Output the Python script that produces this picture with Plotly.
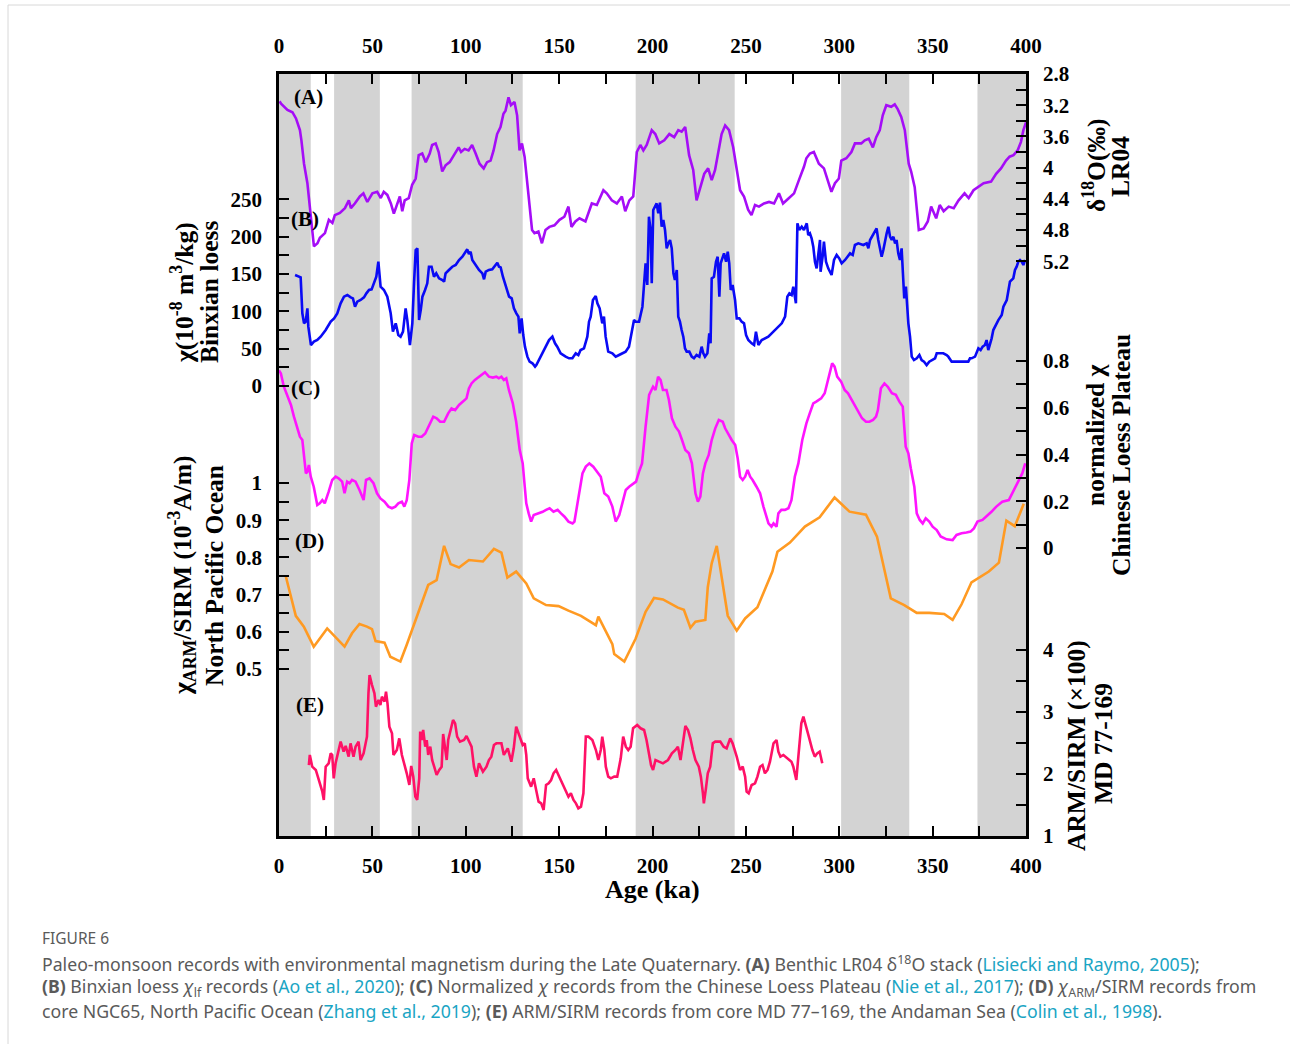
import plotly.graph_objects as go

# ---------------- data (age in ka, values in axis units) ----------------
A_pts = [(0.3,3.15),(1.1,3.18),(4.5,3.26),(7.2,3.29),(9.1,3.37),(11.2,3.52),(12.0,3.65),(13.4,3.95),(15.2,4.20),(16.6,4.54),(17.9,4.80),(18.7,5.01),(20.6,4.97),(21.9,4.90),(24.6,4.84),(26.7,4.67),(28.6,4.71),(29.9,4.61),(32.6,4.58),(35.3,4.52),(37.4,4.42),(38.5,4.52),(40.6,4.46),(43.3,4.37),(45.2,4.33),(47.3,4.44),(50.0,4.33),(52.6,4.31),(54.5,4.39),(56.1,4.31),(58.0,4.35),(59.9,4.46),(61.5,4.59),(63.3,4.48),(64.7,4.37),(66.0,4.56),(67.3,4.42),(69.5,4.39),(71.3,4.22),(73.2,4.14),(74.8,3.84),(76.7,3.82),(78.6,3.93),(80.7,3.82),(82.0,3.71),(83.9,3.69),(85.5,3.80),(87.4,4.05),(89.2,3.97),(91.4,3.93),(93.5,3.84),(96.2,3.74),(97.5,3.80),(99.4,3.76),(101.5,3.78),(103.4,3.71),(105.3,3.82),(107.4,3.95),(109.6,4.01),(111.4,3.93),(113.3,3.91),(114.9,3.78),(116.8,3.57),(118.6,3.48),(120.2,3.31),(121.3,3.27),(122.9,3.10),(124.2,3.20),(126.1,3.16),(127.5,3.33),(128.8,3.78),(130.1,3.69),(131.5,3.86),(133.6,4.33),(135.5,4.80),(136.8,4.84),(138.9,4.82),(140.8,4.97),(142.7,4.80),(144.8,4.76),(147.5,4.74),(150.2,4.67),(152.8,4.63),(155.0,4.50),(156.6,4.76),(158.7,4.69),(160.9,4.65),(164.1,4.69),(167.5,4.46),(170.2,4.48),(173.7,4.29),(175.5,4.33),(178.2,4.42),(180.9,4.46),(183.6,4.37),(185.4,4.56),(187.6,4.42),(189.7,4.37),(191.6,3.80),(193.5,3.71),(195.1,3.78),(196.9,3.71),(199.6,3.52),(201.5,3.57),(203.6,3.69),(206.3,3.65),(209.0,3.57),(211.6,3.61),(213.8,3.52),(215.6,3.54),(217.5,3.48),(219.6,3.84),(221.8,4.03),(223.6,4.42),(225.5,4.25),(227.7,4.08),(229.8,4.01),(231.7,4.16),(233.5,4.03),(235.7,3.74),(237.0,3.57),(238.9,3.46),(241.0,3.52),(243.2,3.74),(245.0,3.99),(246.9,4.29),(249.0,4.37),(251.2,4.54),(253.0,4.61),(254.9,4.48),(257.0,4.50),(259.7,4.46),(262.4,4.44),(265.1,4.46),(267.7,4.33),(269.9,4.46),(273.1,4.39),(275.8,4.33),(278.4,4.16),(281.1,3.99),(282.4,3.88),(284.3,3.82),(286.4,3.80),(289.1,3.95),(291.8,4.01),(293.9,4.16),(295.8,4.31),(297.7,4.20),(299.8,4.14),(301.1,3.91),(303.8,3.88),(306.5,3.80),(308.4,3.69),(311.8,3.69),(313.7,3.65),(315.8,3.63),(318.0,3.74),(319.8,3.61),(321.7,3.52),(323.3,3.33),(325.2,3.20),(327.8,3.22),(329.7,3.19),(331.3,3.25),(333.2,3.35),(335.1,3.52),(337.2,3.95),(338.5,4.05),(340.4,4.25),(342.6,4.80),(345.2,4.78),(347.4,4.69),(349.2,4.50),(351.9,4.65),(353.8,4.48),(355.9,4.56),(358.6,4.50),(361.3,4.52),(363.9,4.42),(367.1,4.33),(369.3,4.39),(371.9,4.29),(374.6,4.25),(377.3,4.20),(381.3,4.18),(384.0,4.08),(386.6,4.01),(389.3,3.91),(391.2,3.86),(393.3,3.84),(395.5,3.78),(397.3,3.67),(398.6,3.52),(400.0,3.42)]

B_pts = [(8.6,148.8),(11.6,145.6),(12.5,97.4),(13.4,84.0),(14.3,86.2),(15.2,104.1),(15.7,79.5),(16.4,66.1),(17.1,54.9),(18.7,59.4),(20.5,61.6),(22.3,66.1),(25.0,75.0),(27.7,86.2),(29.5,90.7),(31.2,97.4),(33.0,110.8),(34.8,119.7),(36.6,122.0),(38.4,118.8),(39.6,117.5),(40.7,106.3),(41.9,113.0),(43.7,115.3),(45.5,118.8),(46.8,124.2),(48.2,128.7),(49.6,129.5),(50.9,137.6),(52.1,146.5),(53.2,166.6),(54.4,133.1),(56.2,128.7),(58.0,119.7),(59.8,97.4),(61.0,72.8),(62.5,84.0),(63.9,68.3),(65.1,66.1),(66.4,72.8),(67.8,104.1),(68.7,88.4),(70.1,54.9),(71.4,84.0),(72.3,137.6),(73.2,182.3),(74.1,184.5),(75.0,88.4),(75.9,101.9),(76.8,119.7),(78.2,128.7),(79.4,137.6),(80.3,159.9),(81.7,159.9),(83.0,146.5),(84.2,151.0),(85.7,144.3),(87.5,142.1),(88.4,139.8),(89.2,151.0),(91.0,155.5),(92.8,159.9),(94.6,162.2),(96.4,168.9),(98.2,173.3),(99.6,177.8),(100.8,183.2),(101.7,176.9),(102.6,180.0),(103.5,168.9),(105.3,162.2),(107.1,155.5),(108.9,151.0),(109.8,143.0),(110.7,153.2),(112.4,155.5),(114.2,156.4),(116.0,162.2),(116.9,165.3),(117.8,159.9),(118.7,159.0),(119.9,146.5),(121.4,133.1),(123.2,119.7),(124.6,117.5),(125.8,104.1),(127.1,97.4),(128.2,92.9),(128.9,70.6),(129.9,90.7),(130.8,68.3),(131.7,52.7),(133.0,39.3),(134.2,32.6),(135.7,30.4),(137.1,25.9),(137.8,28.1),(139.2,34.8),(141.0,43.8),(142.8,52.7),(144.6,61.6),(146.4,66.1),(147.8,57.2),(149.0,52.7),(150.8,43.8),(153.5,39.3),(155.3,37.1),(157.1,37.1),(158.9,43.8),(160.3,41.5),(161.5,48.2),(163.3,50.5),(165.1,66.1),(166.0,86.2),(166.9,92.9),(168.1,115.3),(169.6,120.6),(170.5,110.8),(171.7,104.1),(173.1,84.0),(174.0,92.9),(174.9,66.1),(176.3,46.0),(178.5,43.8),(180.3,39.3),(182.1,41.5),(183.8,43.8),(185.6,46.0),(187.4,52.7),(189.2,79.5),(190.1,88.4),(191.0,86.2),(192.8,86.2),(194.6,106.3),(195.4,130.9),(196.3,164.4),(197.2,135.4),(198.1,226.9),(199.0,209.1),(199.6,137.6),(200.4,235.9),(201.3,240.4),(202.2,244.8),(203.1,231.4),(204.0,245.7),(204.9,213.5),(205.8,222.5),(206.7,209.1),(207.6,184.5),(208.5,191.2),(209.4,195.7),(210.3,184.5),(211.2,151.0),(212.0,142.1),(213.0,155.5),(213.8,92.9),(214.7,86.2),(215.6,75.0),(216.5,66.1),(217.4,50.5),(218.3,46.0),(219.7,46.0),(221.0,39.3),(222.2,37.1),(223.6,41.5),(225.1,39.3),(226.3,52.7),(227.2,43.8),(228.1,39.3),(229.4,43.8),(230.4,70.6),(231.1,57.2),(231.7,144.3),(232.9,146.5),(234.0,166.6),(234.9,173.3),(235.8,119.7),(236.5,164.4),(237.6,173.3),(238.3,177.8),(239.4,166.6),(240.3,180.0),(241.1,164.4),(241.9,128.7),(242.9,135.4),(244.2,115.3),(245.1,90.7),(246.5,90.7),(247.7,86.2),(249.0,84.0),(250.1,68.3),(251.3,61.6),(253.1,57.2),(254.4,54.9),(255.4,72.8),(256.7,54.9),(258.5,61.6),(260.2,63.9),(262.0,66.1),(263.8,70.6),(265.6,75.0),(267.4,79.5),(269.2,84.0),(271.0,92.9),(272.2,119.7),(273.3,124.2),(274.5,122.0),(275.4,133.1),(276.8,110.8),(277.6,218.0),(278.6,209.1),(279.9,213.5),(281.1,209.1),(282.6,218.0),(283.4,202.4),(284.3,204.6),(285.2,197.9),(286.1,186.7),(287.0,166.6),(287.9,157.7),(288.8,180.0),(289.7,195.7),(290.0,153.2),(291.1,173.3),(291.8,193.5),(292.9,166.6),(294.1,157.7),(295.9,148.8),(297.2,168.9),(298.6,175.6),(300.0,171.1),(301.3,164.4),(303.1,168.9),(304.3,173.3),(305.8,177.8),(307.2,175.6),(308.4,189.0),(310.2,191.2),(312.9,189.0),(314.7,191.2),(315.6,184.5),(316.5,195.7),(317.9,202.4),(319.1,206.9),(320.0,211.3),(320.9,195.7),(321.8,182.3),(322.7,173.3),(323.6,182.3),(324.5,195.7),(325.4,204.6),(326.3,213.5),(327.2,200.1),(328.1,195.7),(329.0,200.1),(329.9,191.2),(330.7,195.7),(331.6,177.8),(332.5,168.9),(333.4,184.5),(334.3,142.1),(334.8,117.5),(335.7,133.1),(337.0,84.0),(337.9,66.1),(338.8,39.3),(340.0,34.8),(341.5,37.1),(342.9,41.5),(344.1,34.8),(345.4,32.6),(346.8,28.1),(348.2,32.6),(349.5,34.8),(351.3,37.1),(352.2,43.8),(354.0,43.8),(355.7,43.8),(357.5,41.5),(358.4,39.3),(360.2,32.6),(362.0,32.6),(364.7,32.6),(367.3,32.6),(369.1,32.6),(370.0,37.1),(370.9,37.1),(372.7,39.3),(373.6,46.0),(374.5,50.5),(375.7,48.2),(376.8,52.7),(378.0,54.9),(378.9,61.6),(379.8,48.2),(380.7,54.9),(381.6,63.9),(382.5,75.0),(383.4,79.5),(384.3,84.0),(385.2,88.4),(387.0,95.2),(387.9,106.3),(389.7,115.3),(390.5,128.7),(391.4,139.8),(393.2,144.3),(394.1,155.5),(395.0,160.0),(395.9,166.6),(396.8,168.9),(397.7,166.6),(398.6,162.2),(399.5,168.9)]

C_pts = [(0.0,0.76),(1.0,0.747),(2.6,0.690),(4.5,0.647),(6.4,0.612),(8.0,0.562),(9.8,0.519),(11.2,0.476),(12.5,0.462),(13.3,0.391),(14.4,0.319),(15.2,0.327),(16.0,0.355),(17.0,0.305),(18.6,0.262),(20.5,0.184),(21.8,0.191),(23.2,0.205),(24.5,0.191),(26.6,0.241),(28.5,0.291),(30.3,0.305),(31.9,0.298),(33.8,0.284),(35.1,0.234),(36.5,0.284),(37.8,0.277),(39.1,0.291),(41.0,0.284),(43.1,0.248),(45.3,0.205),(46.6,0.291),(48.5,0.298),(50.6,0.277),(52.5,0.234),(54.3,0.212),(56.5,0.198),(58.6,0.177),(60.5,0.170),(62.3,0.177),(63.9,0.191),(65.8,0.198),(67.1,0.177),(68.4,0.205),(69.8,0.291),(71.1,0.448),(72.4,0.483),(74.6,0.476),(76.4,0.476),(78.3,0.490),(80.4,0.526),(82.6,0.562),(84.4,0.555),(86.3,0.540),(88.4,0.540),(90.6,0.576),(92.4,0.597),(94.3,0.590),(96.4,0.612),(98.5,0.626),(100.4,0.640),(101.7,0.683),(103.1,0.704),(104.9,0.719),(107.1,0.733),(109.2,0.747),(110.3,0.752),(112.4,0.733),(114.5,0.729),(116.4,0.733),(117.7,0.726),(119.1,0.733),(120.4,0.719),(121.7,0.726),(123.1,0.676),(125.2,0.619),(127.0,0.540),(128.9,0.419),(130.5,0.362),(131.6,0.262),(132.4,0.191),(133.7,0.148),(135.0,0.113),(136.4,0.141),(139.0,0.148),(141.2,0.155),(143.0,0.163),(144.9,0.170),(147.0,0.155),(149.2,0.163),(151.0,0.148),(152.9,0.134),(155.0,0.113),(157.2,0.105),(158.2,0.113),(160.3,0.220),(162.5,0.319),(164.3,0.348),(166.2,0.362),(168.3,0.348),(170.5,0.327),(172.3,0.305),(174.2,0.234),(176.3,0.220),(178.5,0.177),(180.3,0.113),(182.2,0.141),(183.8,0.191),(185.7,0.248),(187.5,0.262),(189.7,0.277),(191.2,0.284),(192.8,0.327),(194.4,0.362),(196.3,0.519),(198.2,0.655),(200.3,0.690),(201.6,0.676),(203.0,0.733),(204.3,0.719),(205.6,0.676),(207.5,0.676),(208.8,0.633),(210.4,0.555),(212.3,0.519),(214.2,0.498),(215.8,0.462),(217.6,0.419),(219.5,0.405),(221.1,0.362),(223.0,0.234),(224.3,0.198),(225.6,0.220),(227.0,0.319),(228.3,0.362),(230.1,0.398),(231.7,0.462),(233.6,0.512),(235.5,0.548),(237.6,0.540),(238.9,0.512),(240.3,0.490),(242.4,0.462),(244.3,0.441),(245.6,0.384),(246.9,0.305),(248.3,0.291),(249.6,0.305),(250.9,0.334),(252.3,0.305),(253.6,0.291),(255.7,0.262),(257.6,0.234),(259.4,0.177),(261.0,0.134),(262.1,0.105),(263.7,0.091),(264.8,0.105),(266.4,0.091),(267.4,0.148),(269.0,0.163),(270.9,0.163),(272.8,0.170),(274.4,0.205),(276.2,0.305),(278.1,0.362),(280.2,0.462),(282.4,0.533),(284.2,0.576),(286.1,0.619),(287.7,0.626),(290.3,0.640),(292.2,0.662),(293.5,0.704),(294.9,0.761),(296.2,0.790),(297.5,0.776),(298.9,0.733),(301.0,0.712),(302.9,0.676),(304.7,0.662),(306.3,0.640),(308.2,0.612),(310.1,0.583),(312.2,0.555),(314.3,0.540),(316.2,0.540),(318.1,0.548),(319.7,0.562),(320.7,0.590),(322.3,0.683),(324.2,0.704),(326.0,0.690),(328.2,0.662),(330.3,0.655),(332.2,0.626),(334.0,0.605),(335.6,0.433),(337.0,0.405),(338.3,0.341),(340.2,0.262),(341.5,0.148),(343.1,0.120),(344.7,0.105),(346.3,0.127),(348.2,0.113),(350.0,0.091),(352.2,0.077),(354.3,0.049),(357.5,0.037),(360.7,0.034),(362.8,0.056),(365.5,0.063),(368.1,0.066),(370.3,0.070),(372.1,0.084),(374.0,0.113),(376.7,0.120),(378.8,0.134),(381.5,0.155),(384.1,0.177),(387.3,0.198),(390.8,0.205),(393.4,0.248),(396.1,0.291),(398.0,0.319),(399.6,0.362)]

D_pts = [(3.7,0.748),(5.8,0.703),(9.0,0.643),(13.3,0.614),(18.6,0.560),(25.8,0.609),(35.1,0.560),(39.1,0.596),(43.1,0.621),(47.1,0.614),(49.8,0.607),(51.7,0.575),(56.5,0.571),(59.6,0.533),(65.0,0.520),(68.4,0.565),(72.4,0.623),(76.4,0.681),(79.9,0.726),(84.4,0.739),(88.4,0.831),(91.9,0.782),(96.4,0.773),(101.7,0.793),(109.2,0.789),(115.1,0.823),(119.1,0.813),(122.3,0.746),(127.0,0.762),(132.4,0.730),(136.4,0.690),(143.0,0.672),(149.7,0.669),(155.0,0.657),(161.7,0.643),(169.7,0.618),(171.0,0.641),(178.5,0.567),(179.5,0.540),(184.9,0.520),(191.0,0.582),(196.3,0.654),(200.8,0.691),(205.6,0.687),(213.6,0.665),(216.8,0.659),(220.3,0.611),(223.0,0.627),(228.3,0.632),(229.6,0.720),(231.7,0.784),(234.4,0.831),(237.1,0.748),(240.3,0.643),(245.1,0.603),(249.6,0.636),(256.2,0.666),(261.6,0.730),(264.2,0.762),(266.9,0.815),(273.6,0.840),(281.6,0.883),(289.5,0.908),(297.5,0.961),(305.5,0.923),(314.3,0.915),(320.2,0.856),(327.6,0.690),(334.8,0.672),(341.5,0.651),(348.2,0.651),(356.2,0.648),(360.7,0.632),(365.5,0.674),(370.8,0.733),(380.1,0.762),(385.5,0.786),(389.5,0.899),(394.0,0.884),(398.8,0.944)]

E_pts = [(16.0,2.145),(16.5,2.307),(17.8,2.118),(19.7,2.065),(20.8,1.957),(21.8,1.850),(23.2,1.715),(24.0,1.581),(25.0,2.118),(26.6,2.172),(27.7,2.333),(28.5,2.307),(29.3,1.930),(30.3,2.172),(31.9,2.360),(33.0,2.522),(34.6,2.360),(35.7,2.452),(37.3,2.280),(38.3,2.495),(39.9,2.280),(41.0,2.441),(42.6,2.522),(43.7,2.226),(45.3,2.333),(47.1,2.602),(47.9,3.301),(48.5,3.597),(49.8,3.435),(51.1,3.301),(51.9,3.086),(53.3,3.193),(54.3,3.113),(55.1,3.247),(56.5,3.167),(57.3,3.328),(58.1,3.140),(59.1,2.764),(60.5,2.656),(61.3,2.307),(63.1,2.387),(64.4,2.575),(65.8,2.307),(67.1,2.172),(68.4,2.011),(69.8,1.823),(70.8,2.129),(71.9,1.957),(73.0,1.634),(74.0,1.581),(75.1,1.930),(75.6,2.683),(76.4,2.548),(77.2,2.710),(78.3,2.441),(79.1,2.548),(79.9,2.307),(81.0,2.441),(82.0,2.226),(83.1,2.118),(84.4,1.984),(85.8,2.065),(87.1,2.118),(87.9,2.645),(89.0,2.441),(89.8,2.226),(90.6,2.548),(91.9,2.710),(93.2,2.871),(94.3,2.817),(95.4,2.602),(96.9,2.522),(99.1,2.548),(100.4,2.613),(101.7,2.522),(103.1,2.441),(104.4,2.118),(105.7,1.957),(107.1,2.172),(109.2,2.038),(111.1,2.118),(112.4,2.226),(113.7,2.280),(115.1,2.468),(116.4,2.495),(119.1,2.495),(120.4,2.307),(122.5,2.414),(124.4,2.199),(125.7,2.414),(127.0,2.764),(128.9,2.602),(130.5,2.468),(131.6,2.495),(132.4,2.307),(133.2,1.930),(135.0,1.796),(136.4,1.930),(137.7,1.742),(139.0,1.554),(140.4,1.527),(141.7,1.420),(143.0,1.823),(144.4,1.850),(145.7,1.903),(147.0,2.011),(148.4,2.065),(149.7,1.984),(151.0,1.903),(152.4,1.796),(153.7,1.715),(155.0,1.634),(156.3,1.688),(157.7,1.581),(159.0,1.527),(160.3,1.446),(161.7,1.473),(163.0,1.688),(164.3,2.602),(165.7,2.602),(167.8,2.548),(169.7,2.387),(171.0,2.226),(172.3,2.387),(173.1,2.602),(174.2,2.387),(175.0,2.118),(176.3,1.957),(177.7,1.930),(179.5,1.957),(181.1,1.957),(183.0,2.253),(184.3,2.602),(185.7,2.441),(187.0,2.387),(188.3,2.441),(189.6,2.737),(191.8,2.790),(193.6,2.737),(195.5,2.710),(196.8,2.548),(198.2,2.333),(199.2,2.145),(200.3,2.065),(201.6,2.226),(203.5,2.199),(205.6,2.172),(208.3,2.226),(210.4,2.333),(212.3,2.387),(213.6,2.441),(215.0,2.226),(216.3,2.495),(217.6,2.774),(219.0,2.710),(220.3,2.575),(221.6,2.387),(223.0,2.226),(224.8,2.118),(225.9,1.957),(227.0,1.688),(227.5,1.527),(228.5,1.742),(229.6,2.011),(230.9,2.118),(232.3,2.495),(233.6,2.522),(236.3,2.522),(238.1,2.441),(239.7,2.414),(241.6,2.575),(242.9,2.495),(245.1,2.280),(246.9,2.065),(248.3,2.118),(249.6,1.957),(250.4,1.715),(251.5,1.688),(253.1,1.823),(254.9,1.850),(256.2,1.957),(257.6,2.118),(258.9,2.145),(260.2,2.011),(261.6,2.065),(262.9,2.199),(264.8,2.495),(266.4,2.548),(267.4,2.360),(268.5,2.280),(270.1,2.307),(272.2,2.253),(274.4,2.199),(275.4,2.118),(277.0,1.903),(278.1,2.280),(279.7,2.817),(280.8,2.925),(282.4,2.764),(283.7,2.602),(285.6,2.387),(286.9,2.280),(288.2,2.333),(289.5,2.360),(290.9,2.172)]

# glacial/interglacial shading intervals (ka)
shade_bands = [(0, 17), (29.5, 54), (71, 130.5), (191, 244), (301, 337.5), (374, 400)]

# tick values / labels (major = labelled, minor = unlabelled)
age_major = [0, 50, 100, 150, 200, 250, 300, 350, 400]
age_minor = [25, 75, 125, 175, 225, 275, 325, 375]
B_major = [0, 50, 100, 150, 200, 250]
B_minor = [25, 75, 125, 175, 225]
D_major = [0.5, 0.6, 0.7, 0.8, 0.9, 1.0]
D_labels = ["0.5", "0.6", "0.7", "0.8", "0.9", "1"]
D_minor = [0.55, 0.65, 0.75, 0.85, 0.95]
A_major = [2.8, 3.2, 3.6, 4.0, 4.4, 4.8, 5.2]
A_labels = ["2.8", "3.2", "3.6", "4", "4.4", "4.8", "5.2"]
A_minor = [3.0, 3.4, 3.8, 4.2, 4.6, 5.0]
C_major = [0, 0.2, 0.4, 0.6, 0.8]
C_labels = ["0", "0.2", "0.4", "0.6", "0.8"]
C_minor = [0.1, 0.3, 0.5, 0.7]
E_major = [1, 2, 3, 4]
E_labels = ["1", "2", "3", "4"]
E_minor = [1.5, 2.5, 3.5]

# ---------------- figure ----------------
W, H = 1290, 1044
L, R, T, B = 279, 264, 74, 208
PW, PH = W - L - R, H - T - B


def px(x):
    return (x - L) / PW


def py(y):
    return (H - B - y) / PH


SERIF = "Liberation Serif"
fig = go.Figure()

series = [
    (A_pts, "y3", "#A50DF7"),
    (B_pts, "y", "#0A0AF5"),
    (C_pts, "y4", "#FF14FF"),
    (D_pts, "y2", "#FF9A22"),
    (E_pts, "y5", "#FF1166"),
]
for pts, yax, col in series:
    xs, ys = zip(*pts)
    fig.add_trace(go.Scatter(x=list(xs), y=list(ys), xaxis="x", yaxis=yax, mode="lines",
                             line=dict(color=col, width=2.6), showlegend=False, hoverinfo="skip"))

# dummy trace to activate the top axis
fig.add_trace(go.Scatter(x=[0, 400], y=[None, None], xaxis="x2", yaxis="y", mode="lines",
                         showlegend=False, hoverinfo="skip"))

for x0, x1 in shade_bands:
    fig.add_shape(type="rect", xref="x", yref="paper", x0=x0, x1=x1, y0=0, y1=1,
                  fillcolor="#D3D3D3", line=dict(width=0), layer="below")

tick_font = dict(family=SERIF, size=21, color="black", weight="bold")
tick_style = dict(ticks="inside", ticklen=10, tickwidth=2, tickcolor="black")


def minor(vals):
    return dict(tickmode="array", tickvals=vals, showgrid=False, **tick_style)


common = dict(showgrid=False, zeroline=False, showline=True, linecolor="black", linewidth=2.5,
              tickfont=tick_font, tickmode="array", **tick_style)
common_y = dict(common, domain=[0, 1], ticklabelstandoff=10)

fig.update_layout(
    width=W, height=H, margin=dict(l=L, r=R, t=T, b=B, pad=0),
    paper_bgcolor="white", plot_bgcolor="white", showlegend=False,
    xaxis=dict(common, side="bottom", range=[0, 400], tickvals=age_major,
               ticktext=[str(v) for v in age_major], minor=minor(age_minor), ticklabelstandoff=9),
    xaxis2=dict(common, side="top", overlaying="x", anchor="y", range=[0, 400], tickvals=age_major,
                ticktext=[str(v) for v in age_major], minor=minor(age_minor), ticklabelstandoff=10),
    yaxis=dict(common_y, side="left", range=[-603.2, 418.2], tickvals=B_major,
               ticktext=[str(v) for v in B_major], minor=minor(B_minor)),
    yaxis2=dict(common_y, side="left", overlaying="y", range=[0.0511, 2.0995], tickvals=D_major,
                ticktext=D_labels, minor=minor(D_minor)),
    yaxis3=dict(common_y, side="right", overlaying="y", range=[12.569, 2.8], tickvals=A_major,
                ticktext=A_labels, minor=minor(A_minor)),
    yaxis4=dict(common_y, side="right", overlaying="y", range=[-1.2321, 2.0278], tickvals=C_major,
                ticktext=C_labels, minor=minor(C_minor)),
    yaxis5=dict(common_y, side="right", overlaying="y", range=[1, 13.29], tickvals=E_major,
                ticktext=E_labels, minor=minor(E_minor)),
)

ann = []


def add_text(text, x, y, size=25.5, angle=0, xanchor="center", color="black", family=SERIF, bold=True):
    ann.append(dict(text=text, x=px(x), y=py(y), xref="paper", yref="paper", showarrow=False,
                    textangle=angle, xanchor=xanchor, yanchor="middle",
                    font=dict(family=family, size=size, color=color, weight="bold" if bold else "normal")))


# panel letters
for lab, x, y in [("(A)", 308, 97), ("(B)", 305, 219), ("(C)", 305, 388), ("(D)", 309, 541), ("(E)", 310, 705)]:
    add_text(lab, x, y, size=21)

# axis titles
add_text("Age (ka)", 652, 889, size=26)
add_text("χ(10<sup>-8</sup> m<sup>3</sup>/kg)", 182, 293, angle=-90)
add_text("Binxian loess", 209, 292, angle=-90)
add_text("χ<sub>ARM</sub>/SIRM (10<sup>-3</sup>A/m)", 182, 575, angle=-90)
add_text("North Pacific Ocean", 214, 576, angle=-90)
add_text("δ<sup>18</sup>O(‰)", 1095, 166, angle=-90)
add_text("LR04", 1120, 167, angle=-90)
add_text("normalized χ", 1095, 435, angle=-90)
add_text("Chinese Loess Plateau", 1121, 455, angle=-90)
add_text("ARM/SIRM (×100)", 1076, 746, angle=-90)
add_text("MD 77-169", 1103, 744, angle=-90)

# caption
LINK = "#1AA5C4"
CAP = "#5A5A5A"


def link(t):
    return f'<span style="color:{LINK}">{t}</span>'


cap_lines = [
    "Paleo-monsoon records with environmental magnetism during the Late Quaternary. <b>(A)</b> Benthic LR04 δ<sup>18</sup>O stack ("
    + link("Lisiecki and Raymo, 2005") + ");",
    "<b>(B)</b> Binxian loess <i>χ</i><sub>lf</sub> records (" + link("Ao et al., 2020")
    + "); <b>(C)</b> Normalized <i>χ</i> records from the Chinese Loess Plateau (" + link("Nie et al., 2017")
    + "); <b>(D)</b> <i>χ</i><sub>ARM</sub>/SIRM records from",
    "core NGC65, North Pacific Ocean (" + link("Zhang et al., 2019")
    + "); <b>(E)</b> ARM/SIRM records from core MD 77–169, the Andaman Sea (" + link("Colin et al., 1998") + ").",
]
add_text("FIGURE 6", 40, 938, size=15.5, xanchor="left", color=CAP, family="Noto Sans", bold=False)
for i, t in enumerate(cap_lines):
    add_text(t, 40, 963 + 24 * i, size=17.7, xanchor="left", color=CAP, family="Noto Sans", bold=False)

fig.update_layout(annotations=ann)

# light outer frame
fig.add_shape(type="rect", xref="paper", yref="paper", x0=px(8), x1=px(1310), y0=py(1060), y1=py(5),
              line=dict(color="#D8D8D8", width=1), fillcolor="rgba(0,0,0,0)", layer="below")

fig.write_html("out.html")
